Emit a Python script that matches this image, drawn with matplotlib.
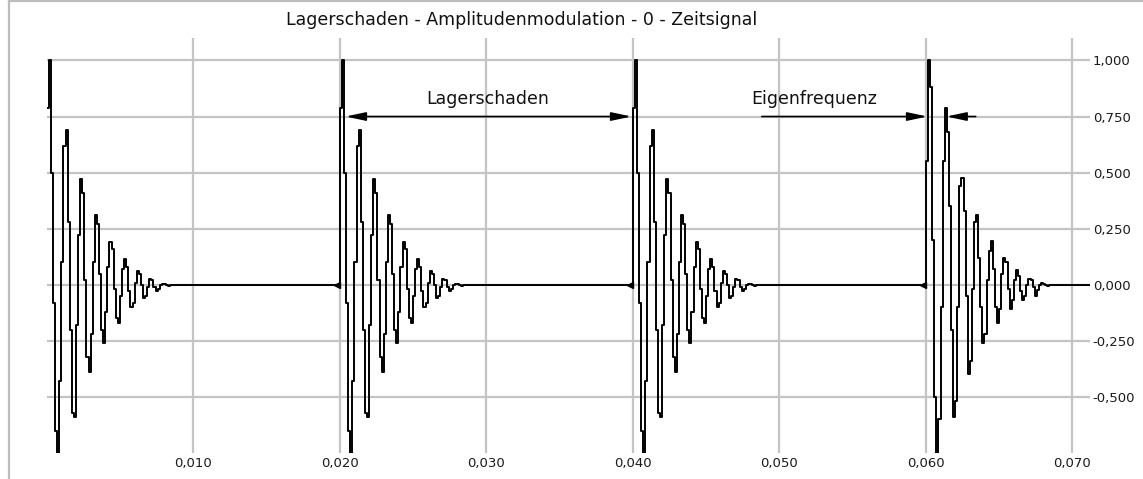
import numpy as np
import matplotlib
matplotlib.use("Agg")
import matplotlib.pyplot as plt
from matplotlib.ticker import FuncFormatter, FixedLocator
from matplotlib.lines import Line2D

# Abtastung und Lage der Stoesse
ABTASTRATE = 7000            # Hz
T_ENDE = 0.0712              # s
STOSS_ZEITEN = [0.000, 0.020, 0.040, 0.060]

stoss_a = [0.79, 1.00, 0.50, -0.08, -0.65, -0.85, -0.43,
           0.10, 0.62, 0.69, 0.28, -0.20, -0.57, -0.59,
           -0.18, 0.22, 0.47, 0.41, 0.02, -0.32, -0.39,
           -0.22, 0.10, 0.31, 0.27, 0.05, -0.20, -0.26,
           -0.12, 0.08, 0.19, 0.16, -0.02, -0.15, -0.17,
           -0.05, 0.07, 0.115, 0.08, -0.03, -0.10, -0.08,
           0.01, 0.06, 0.05, 0.00, -0.06, -0.05, -0.01,
           0.025, 0.02, -0.01, -0.03, -0.02, 0.00, 0.005,
           0.005, 0.00, -0.005, 0.00]

# Vierter Stoss (zweite Spitze hoeher)
stoss_b = [0.55, 1.00, 0.88, 0.20, -0.50, -0.85, -0.60,
           -0.10, 0.55, 0.79, 0.68, 0.35, -0.20, -0.59,
           -0.52, -0.10, 0.44, 0.475, 0.33, -0.05, -0.40,
           -0.34, -0.02, 0.28, 0.31, 0.12, -0.10, -0.26,
           -0.22, 0.02, 0.15, 0.195, 0.07, -0.10, -0.17,
           -0.11, 0.05, 0.12, 0.10, -0.02, -0.11, -0.07,
           0.02, 0.067, 0.04, -0.03, -0.07, -0.05, 0.00,
           0.027, 0.02, -0.01, -0.05, -0.025, 0.00, 0.01,
           0.005, 0.00, -0.005, 0.00]

STOSS_VERLAEUFE = [stoss_a, stoss_a, stoss_a, stoss_b]

x_ticks = [0.010, 0.020, 0.030, 0.040, 0.050, 0.060, 0.070]
y_ticks = [-0.500, -0.250, 0.000, 0.250, 0.500, 0.750, 1.000]

titel = "Lagerschaden - Amplitudenmodulation - 0 - Zeitsignal"

# Zeitsignal zusammensetzen
n = int(round(T_ENDE * ABTASTRATE)) + 1
zeit = np.arange(n) / ABTASTRATE
signal = np.zeros(n)
for t0, verlauf in zip(STOSS_ZEITEN, STOSS_VERLAEUFE):
    i0 = int(round(t0 * ABTASTRATE))
    signal[i0:i0 + len(verlauf)] = verlauf

fig = plt.figure(figsize=(11.43, 4.79), dpi=100)
ax = fig.add_axes([46.7 / 1143, 1 - 453 / 479, (1090 - 46.7) / 1143, (453 - 38) / 479])

ax.plot(zeit, signal, color="black", linewidth=1.4, drawstyle="steps-post", zorder=3)
ax.plot([t - 0.0002 for t in STOSS_ZEITEN[1:]], [0, 0, 0], linestyle="none",
        marker="<", color="black", markersize=4, zorder=3)

ax.set_xlim(0, T_ENDE)
ax.set_ylim(-0.75, 1.10)

ax.xaxis.set_major_locator(FixedLocator(x_ticks))
ax.yaxis.set_major_locator(FixedLocator(y_ticks))
fmt = FuncFormatter(lambda v, p: f"{v:.3f}".replace(".", ","))
ax.xaxis.set_major_formatter(fmt)
ax.yaxis.set_major_formatter(fmt)
ax.yaxis.tick_right()
ax.tick_params(axis="both", length=0, labelsize=9.5, colors="#1a1a1a")
ax.tick_params(axis="x", pad=3)
ax.tick_params(axis="y", pad=2)

ax.grid(True, color="#c4c4c4", linewidth=1.6, zorder=0)
for s in ax.spines.values():
    s.set_visible(False)

# Titel
fig.text(522 / 1143, 1 - 20 / 479, titel, ha="center", va="center", fontsize=12.5, color="#111111")

pfeil = dict(color="black", lw=1.2, shrinkA=0, shrinkB=0, mutation_scale=16)

# Bemassung Lagerschaden
ax.annotate("", xy=(0.0204, 0.75), xytext=(0.0399, 0.75),
            arrowprops=dict(arrowstyle="<|-|>,head_length=0.75,head_width=0.16", **pfeil))
ax.text(0.0301, 0.83, "Lagerschaden", ha="center", va="center", fontsize=12.5, color="#111111")

# Bemassung Eigenfrequenz
ax.annotate("", xy=(0.0601, 0.75), xytext=(0.0488, 0.75),
            arrowprops=dict(arrowstyle="-|>,head_length=0.75,head_width=0.16", **pfeil))
ax.annotate("", xy=(0.0614, 0.75), xytext=(0.0634, 0.75),
            arrowprops=dict(arrowstyle="-|>,head_length=0.75,head_width=0.16", **pfeil))
ax.text(0.0524, 0.83, "Eigenfrequenz", ha="center", va="center", fontsize=12.5, color="#111111")

# Rahmen links und oben
fig.add_artist(Line2D([9 / 1143, 9 / 1143], [0, 1], color="#bdbdbd", linewidth=1.6))
fig.add_artist(Line2D([9 / 1143, 1], [1 - 1 / 479, 1 - 1 / 479], color="#bdbdbd", linewidth=1.6))

fig.savefig("out.png", dpi=100)
